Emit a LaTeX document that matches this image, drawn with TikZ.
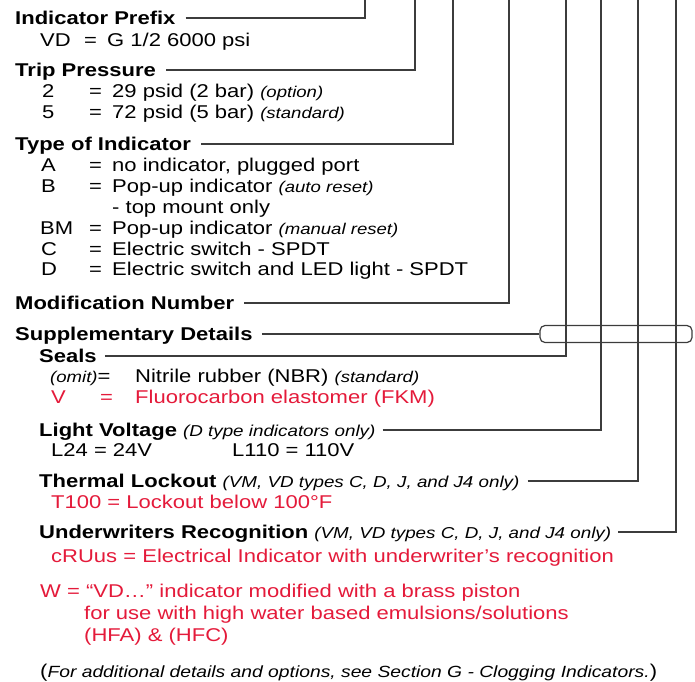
\documentclass[tikz,border=0pt]{standalone}
\usepackage{fontspec}
\setmainfont{Liberation Sans}[FakeStretch=1.19]
\definecolor{pred}{RGB}{228,26,58}
\definecolor{lgray}{RGB}{60,60,60}
\begin{document}
\begin{tikzpicture}[x=1pt,y=-1pt,
  txt/.style={anchor=base west, inner sep=0pt, font=\fontsize{18.5}{22}\selectfont},
  hd/.style={txt, font=\fontsize{18.5}{22}\selectfont\bfseries},
  rd/.style={txt, text=pred},
  conn/.style={line width=1.2pt, draw=lgray}]
\newcommand{\rmk}[1]{{\fontsize{15.6}{20}\selectfont\itshape #1}}
\newcommand{\hrmk}[1]{{\fontsize{15.8}{20}\selectfont\itshape #1}}
\useasboundingbox (0,0) rectangle (695,681);
% top ends of the vertical leaders
\coordinate (t1) at (365,0);
\coordinate (t2) at (415,0);
\coordinate (t3) at (453,0);
\coordinate (t4) at (509,0);
\coordinate (t5) at (566,0);
\coordinate (t6) at (601,0);
\coordinate (t7) at (638,0);
\coordinate (t8) at (676,0);

% Indicator Prefix
\node[hd] (ip) at (15,24.5) {Indicator Prefix};
\node[txt] (vdk) at (40,46.5) {VD};
\node[txt] (vde) at (84,46.5) {=};
\node[txt] (vdv) at (107,46.5) {G 1/2 6000 psi};

% Trip Pressure
\node[hd] (tp) at (15,76.5) {Trip Pressure};
\node[txt] (tpk2) at (42,97.5) {2};
\node[txt] (tpe2) at (89,97.5) {=};
\node[txt] (tpv2) at (112,97.5) {29 psid (2 bar) \rmk{(option)}};
\node[txt] (tpk5) at (42,118.5) {5};
\node[txt] (tpe5) at (89,118.5) {=};
\node[txt] (tpv5) at (112,118.5) {72 psid (5 bar) \rmk{(standard)}};

% Type of Indicator
\node[hd] (ti) at (15,150.5) {Type of Indicator};
\node[txt] (tka) at (41,171.5) {A};
\node[txt] (tea) at (89,171.5) {=};
\node[txt] (tva) at (112,171.5) {no indicator, plugged port};
\node[txt] (tkb) at (41,192.5) {B};
\node[txt] (teb) at (89,192.5) {=};
\node[txt] (tvb) at (112,192.5) {Pop-up indicator \rmk{(auto reset)}};
\node[txt] (tvb2) at (112,213.5) {- top mount only};
\node[txt] (tkbm) at (40,234.5) {BM};
\node[txt] (tebm) at (89,234.5) {=};
\node[txt] (tvbm) at (112,234.5) {Pop-up indicator \rmk{(manual reset)}};
\node[txt] (tkc) at (41,255.5) {C};
\node[txt] (tec) at (89,255.5) {=};
\node[txt] (tvc) at (112,255.5) {Electric switch - SPDT};
\node[txt] (tkd) at (41,275.5) {D};
\node[txt] (ted) at (89,275.5) {=};
\node[txt] (tvd) at (112,275.5) {Electric switch and LED light - SPDT};

% Modification Number
\node[hd] (mn) at (15,309.5) {Modification Number};

% Supplementary Details
\node[hd] (sd) at (15,340.5) {Supplementary Details};
\node[draw=lgray, line width=1.2pt, rounded corners=5pt, minimum width=152pt,
      minimum height=17pt, inner sep=0pt] (box) at (616,334) {};

% Seals
\node[hd] (se) at (39,362.5) {Seals};
\node[txt] (sek) at (50,382.5) {\rmk{(omit)}=};
\node[txt] (sev) at (135,382.5) {Nitrile rubber (NBR) \rmk{(standard)}};
\node[rd] (sevk) at (51,403.5) {V};
\node[rd] (seeq) at (100,403.5) {=};
\node[rd] (sevv) at (135,403.5) {Fluorocarbon elastomer (FKM)};

% Light Voltage
\node[txt] (lv) at (39,436.5) {\textbf{Light Voltage} \hrmk{(D type indicators only)}};
\node[txt] (lv24) at (51,456.5) {L24 = 24V};
\node[txt] (lv110) at (232,456.5) {L110 = 110V};

% Thermal Lockout
\node[txt] (tl) at (39,487.5) {\textbf{Thermal Lockout} \hrmk{(VM, VD types C, D, J, and J4 only)}};
\node[rd] (tlv) at (51,508.5) {T100 = Lockout below 100°F};

% Underwriters Recognition
\node[txt] (ur) at (39,538.5) {\textbf{Underwriters Recognition} \hrmk{(VM, VD types C, D, J, and J4 only)}};
\node[rd] (urv) at (51,562.5) {cRUus = Electrical Indicator with underwriter’s recognition};

% W option
\node[rd] (w1) at (40,597.5) {W = “VD…” indicator modified with a brass piston};
\node[rd] (w2) at (84,619.5) {for use with high water based emulsions/solutions};
\node[rd] (w3) at (84,641.5) {(HFA) \& (HFC)};

% note
\node[txt] (note) at (40,677) {({\fontsize{16.2}{20}\selectfont\itshape For additional details and options, see Section G - Clogging Indicators.})};

% leaders
\draw[conn] ([xshift=10pt,yshift=6.5pt]ip.base east) -| (t1);
\draw[conn] ([xshift=10pt,yshift=6.5pt]tp.base east) -| (t2);
\draw[conn] ([xshift=10pt,yshift=6.5pt]ti.base east) -| (t3);
\draw[conn] ([xshift=10pt,yshift=6.5pt]mn.base east) -| (t4);
\draw[conn] ([xshift=9pt,yshift=6.5pt]sd.base east) -- (box.west);
\draw[conn] ([xshift=8pt,yshift=6.5pt]se.base east) -| (t5);
\draw[conn] ([xshift=7pt,yshift=6.5pt]lv.base east) -| (t6);
\draw[conn] ([xshift=8pt,yshift=6.5pt]tl.base east) -| (t7);
\draw[conn] ([xshift=7pt,yshift=6.5pt]ur.base east) -| (t8);
\end{tikzpicture}
\end{document}
